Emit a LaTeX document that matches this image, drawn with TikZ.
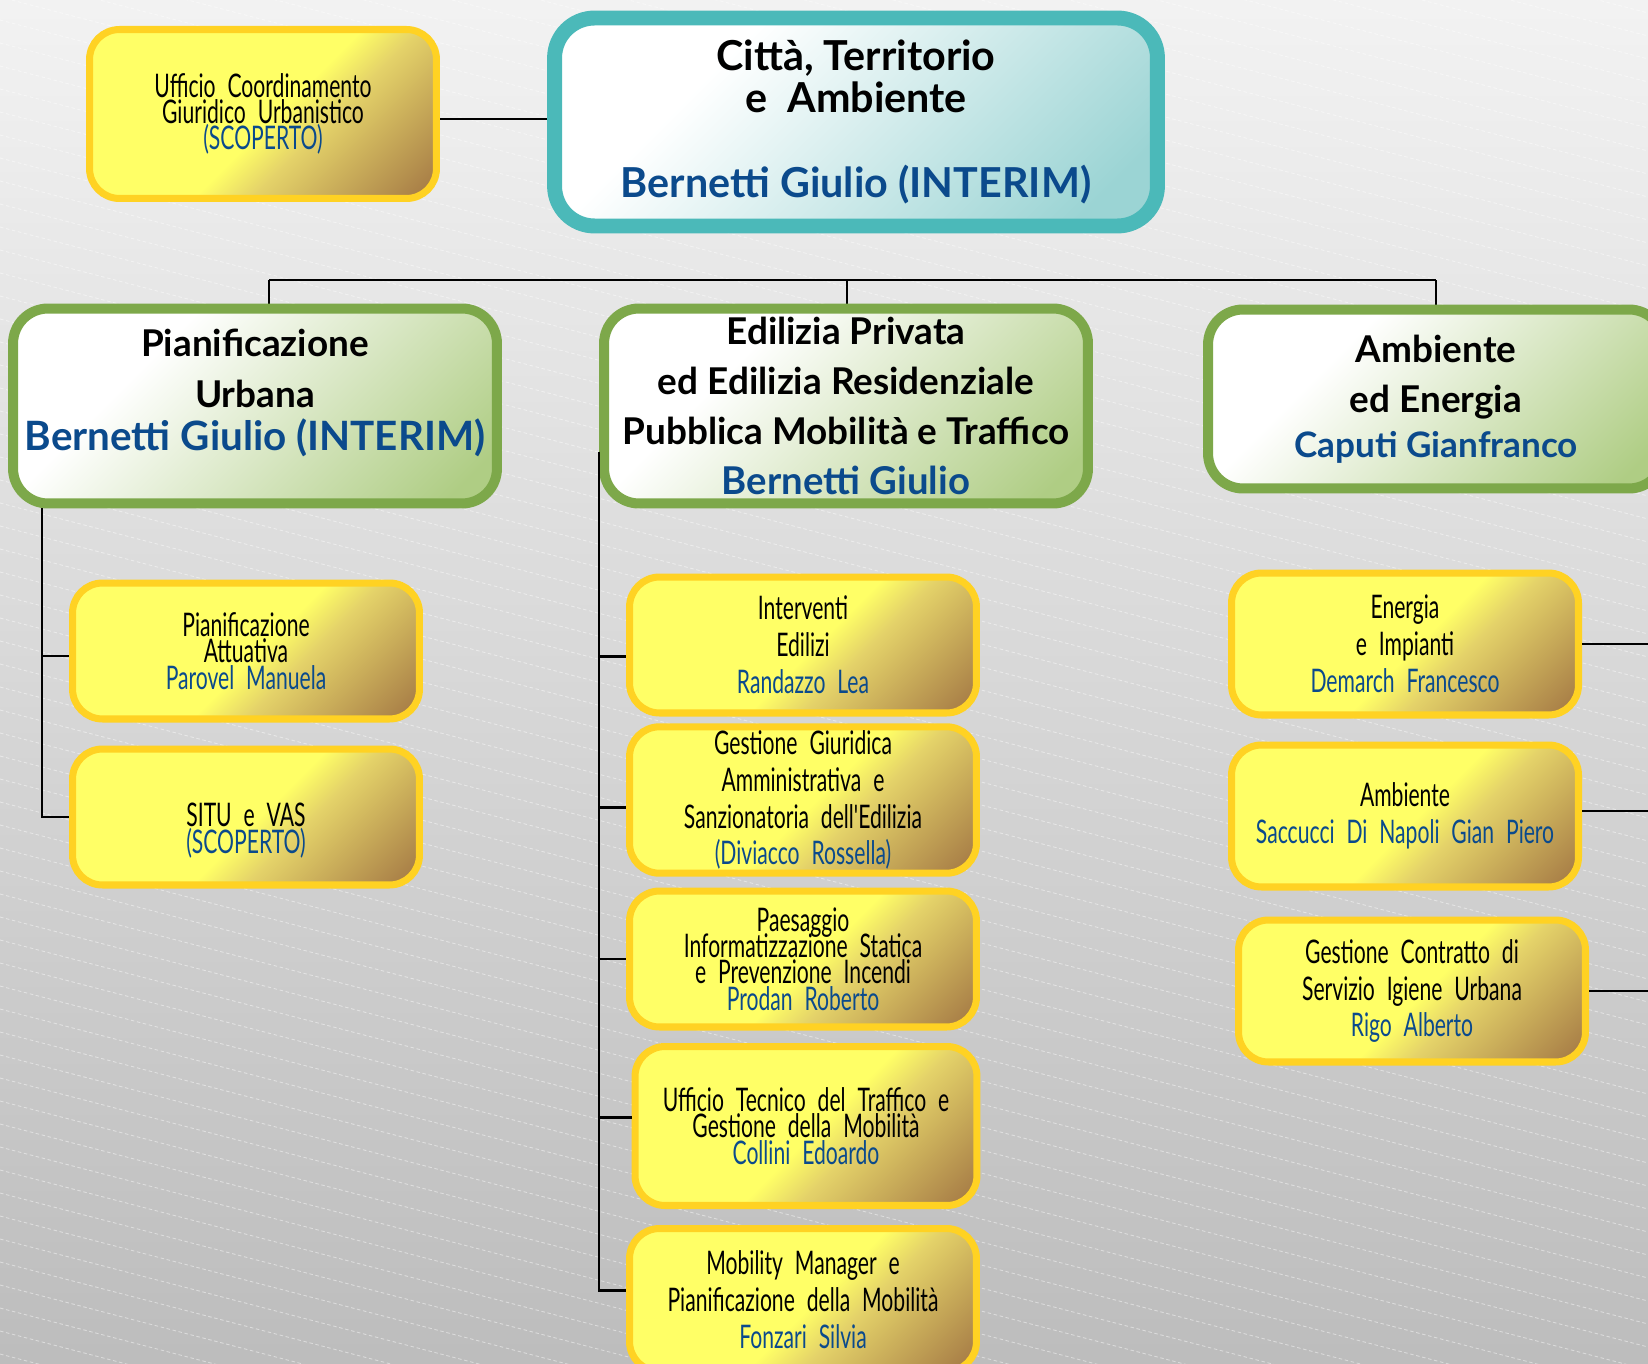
\documentclass[tikz,border=0pt]{standalone}
\usepackage{fontspec}
\setmainfont{Lato}
\newfontfamily\unitfont[FakeStretch=0.65,WordSpace=2.2]{Lato}
\usetikzlibrary{positioning}

\definecolor{nameblue}{RGB}{11,74,140}
\definecolor{ylwline}{RGB}{255,210,35}
\definecolor{ylwlight}{RGB}{255,255,102}
\definecolor{ylwmid}{RGB}{228,210,105}
\definecolor{ylwdark}{RGB}{165,122,69}
\definecolor{tealline}{RGB}{75,185,185}
\definecolor{teallight}{RGB}{155,212,212}
\definecolor{greenline}{RGB}{125,168,74}
\definecolor{greenlight}{RGB}{175,205,132}

\pgfdeclarehorizontalshading{ylwfade}{100bp}{color(0bp)=(ylwlight); color(52bp)=(ylwlight); color(60bp)=(ylwmid); color(84bp)=(ylwdark); color(100bp)=(ylwdark)}
\pgfdeclarehorizontalshading{tealfade}{100bp}{color(0bp)=(white); color(33bp)=(white); color(78bp)=(teallight); color(100bp)=(teallight)}
\pgfdeclarehorizontalshading{greenfade}{100bp}{color(0bp)=(white); color(34bp)=(white); color(80bp)=(greenlight); color(100bp)=(greenlight)}

\newcommand{\who}[1]{\textcolor{nameblue}{#1}}
\newcommand{\tightlines}{\unitfont\fontsize{18.5}{15}\selectfont\setlength{\lineskiplimit}{-20pt}}

\tikzset{
  unit/.style={rounded corners=0.6cm, line width=4pt, draw=ylwline, shading=ylwfade, shading angle=-45,
    align=center, inner sep=2pt, minimum width=6.94cm, minimum height=2.72cm,
    font=\unitfont\fontsize{18.5}{21}\selectfont},
  tight/.style={font=\tightlines},
  area/.style={rounded corners=0.7cm, line width=5.7pt, draw=greenline, shading=greenfade, shading angle=-45,
    align=center, inner sep=2pt, minimum width=9.68cm, minimum height=3.9cm,
    font=\bfseries\fontsize{21}{28.5}\selectfont},
  dept/.style={rounded corners=0.8cm, line width=8.5pt, draw=tealline, shading=tealfade, shading angle=-45,
    align=center, inner sep=2pt, minimum width=12.06cm, minimum height=4.16cm,
    font=\bfseries\fontsize{23.5}{24}\selectfont},
  link/.style={line width=1.2pt, black},
  stripe/.style={white, opacity=0.45, line width=0.5pt, dash pattern=on 2pt off 1.5pt}
}

\begin{document}
\begin{tikzpicture}[x=0.02cm,y=-0.02cm]
    \clip (0,0) rectangle (1648,1364);
    \fill[top color=black!5, bottom color=black!26] (0,0) rectangle (1648,1364);
    \foreach \s in {-440,-417,...,1364}
        \draw[stripe] (0,\s) -- (1648,\s+430);

    % junctions
    \coordinate (jL) at (269,280);
    \coordinate (jM) at (847,280);
    \coordinate (jR) at (1436,280);
    \coordinate (spL) at (42,0);
    \coordinate (spM) at (599,452);
    \coordinate (rE) at (1660,0);

    \draw[link] (jL) -- (jR);
    \draw[link] (jM) -- (jM |- 240,500);
    \draw[link] (jL) -- (jL |- 0,330);
    \draw[link] (jR) -- (jR |- 0,330);
    \draw[link] (263,119) -- (856,119);

    \node[dept] (top) at (856,122) {Città, Territorio\\e~ Ambiente\\[24pt]\who{Bernetti Giulio (INTERIM)}};
    \node[unit, tight, minimum height=3.38cm] (ucg) at (263,114) {Ufficio Coordinamento\\Giuridico Urbanistico\\\who{(SCOPERTO)}};

    \node[area] (pu) at (255,406) {Pianificazione\\Urbana\\[-4pt]\who{\fontsize{23}{28}\selectfont Bernetti Giulio (INTERIM)}\\[-10pt]\mbox{}};
    \node[area] (ep) at (846,406) {Edilizia Privata\\ed Edilizia Residenziale\\Pubblica Mobilità e Traffico\\\who{\fontsize{21.8}{28}\selectfont Bernetti Giulio}};
    \node[area, minimum width=9.12cm, minimum height=3.58cm] (ae) at (1436,399) {Ambiente\\ed Energia\\[-3pt]\who{\fontsize{20}{28}\selectfont Caputi Gianfranco}};

    % Pianificazione Urbana
    \node[unit, tight] (pa) at (246,651) {Pianificazione\\Attuativa\\\who{Parovel Manuela}};
    \node[unit, tight] (situ) at (246,817) {\mbox{}\\[14pt]SITU e VAS\\\who{(SCOPERTO)}};

    \draw[link] (pu.south -| spL) |- ([yshift=-0.1cm]pa.west);
    \draw[link] (pu.south -| spL) |- (situ.west);

    % Edilizia Privata
    \node[unit] (ie) at (803,645) {Interventi\\Edilizi\\\who{Randazzo Lea}};
    \node[unit] (gg) at (803,800) {Gestione Giuridica\\Amministrativa e\\Sanzionatoria dell'Edilizia\\\who{(Diviacco Rossella)}};
    \node[unit, tight] (pae) at (803,959) {Paesaggio\\Informatizzazione Statica\\e Prevenzione Incendi\\\who{Prodan Roberto}};
    \node[unit, tight, minimum width=6.84cm, minimum height=3.18cm] (utt) at (806,1126) {Ufficio Tecnico del Traffico e\\Gestione della Mobilità\\\who{Collini Edoardo}};
    \node[unit, minimum height=2.86cm] (mob) at (803,1300) {Mobility Manager e\\Pianificazione della Mobilità\\\who{Fonzari Silvia}};

    \draw[link] (spM) |- ([yshift=-0.23cm]ie.west);
    \draw[link] (spM) |- ([yshift=-0.15cm]gg.west);
    \draw[link] (spM) |- (pae.west);
    \draw[link] (spM) |- ([yshift=0.17cm]utt.west);
    \draw[link] (spM) |- ([yshift=0.19cm]mob.west);

    % Ambiente ed Energia
    \node[unit, minimum height=2.84cm] (en) at (1405,644) {Energia\\e Impianti\\\who{Demarch Francesco}};
    \node[unit, minimum height=2.84cm] (amb) at (1405,816) {Ambiente\\\who{Saccucci Di Napoli Gian Piero}};
    \node[unit, minimum height=2.84cm] (gc) at (1412,991) {Gestione Contratto di\\Servizio Igiene Urbana\\\who{Rigo Alberto}};

    \draw[link] (en.east) -- (en.east -| rE);
    \draw[link] ([yshift=0.1cm]amb.east) -- ([yshift=0.1cm]amb.east -| rE);
    \draw[link] (gc.east) -- (gc.east -| rE);
\end{tikzpicture}
\end{document}
